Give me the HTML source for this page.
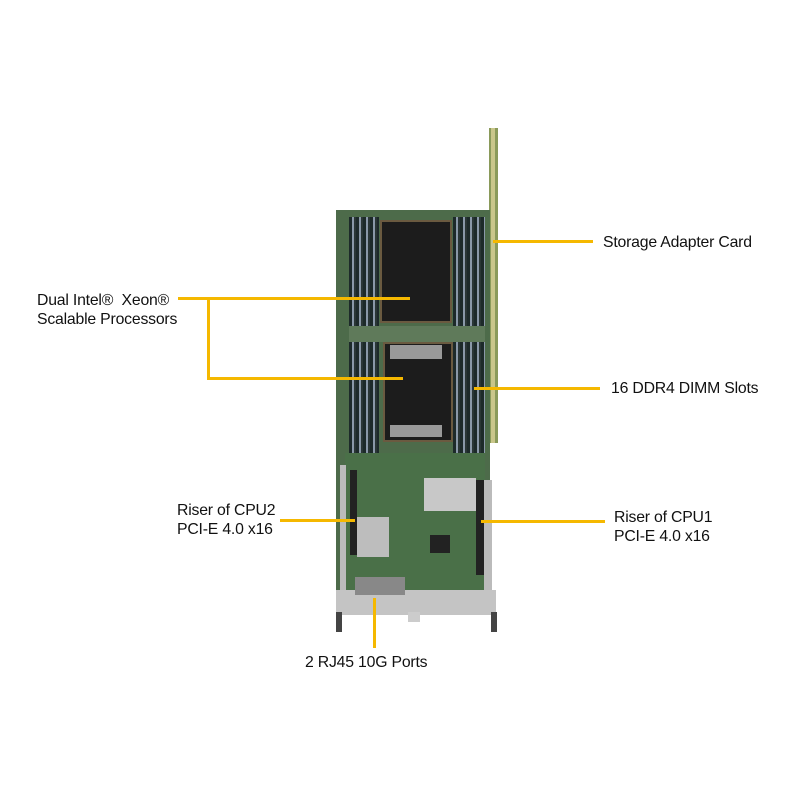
<!DOCTYPE html>
<html><head><style>
body{margin:0;width:800px;height:800px;background:#fff;position:relative;overflow:hidden;font-family:"Liberation Sans",Arial,sans-serif;}
.a{position:absolute}
.t{position:absolute;font-size:15.8px;color:#111;line-height:19px;letter-spacing:-0.2px}
.y{position:absolute;background:#f5b800}
</style></head><body>
<div class="a" style="left:489px;top:128px;width:9px;height:315px;background:#8a9a5a"></div>
<div class="a" style="left:491px;top:128px;width:4px;height:315px;background:#c9c68a"></div>
<div class="a" style="left:336px;top:210px;width:154px;height:385px;background:#4d6b4a"></div>
<div class="a" style="left:349px;top:217px;width:30px;height:236px;background:repeating-linear-gradient(90deg,#1d2a2a 0 3px,#8a98a8 3px 5px,#2a3636 5px 7px)"></div>
<div class="a" style="left:453px;top:217px;width:32px;height:236px;background:repeating-linear-gradient(90deg,#1d2a2a 0 3px,#8a98a8 3px 5px,#2a3636 5px 7px)"></div>
<div class="a" style="left:349px;top:326px;width:136px;height:16px;background:#5f7a5a"></div>
<div class="a" style="left:380px;top:220px;width:72px;height:103px;background:#1c1c1c;border:2px solid #6a5a40;box-sizing:border-box"></div>
<div class="a" style="left:383px;top:342px;width:70px;height:100px;background:#1c1c1c;border:2px solid #6a5a40;box-sizing:border-box"></div>
<div class="a" style="left:390px;top:345px;width:52px;height:14px;background:#999"></div>
<div class="a" style="left:390px;top:425px;width:52px;height:12px;background:#999"></div>
<div class="a" style="left:345px;top:453px;width:140px;height:140px;background:#4a7048"></div>
<div class="a" style="left:424px;top:478px;width:52px;height:33px;background:#c8c8c8"></div>
<div class="a" style="left:357px;top:517px;width:32px;height:40px;background:#bdbdbd"></div>
<div class="a" style="left:430px;top:535px;width:20px;height:18px;background:#222"></div>
<div class="a" style="left:350px;top:470px;width:7px;height:85px;background:#222"></div>
<div class="a" style="left:476px;top:480px;width:8px;height:95px;background:#222"></div>
<div class="a" style="left:340px;top:465px;width:6px;height:130px;background:#bbb"></div>
<div class="a" style="left:484px;top:480px;width:8px;height:115px;background:#bbb"></div>
<div class="a" style="left:336px;top:590px;width:160px;height:25px;background:#c4c4c4"></div>
<div class="a" style="left:355px;top:577px;width:50px;height:18px;background:#888"></div>
<div class="a" style="left:336px;top:612px;width:6px;height:20px;background:#444"></div>
<div class="a" style="left:491px;top:612px;width:6px;height:20px;background:#444"></div>
<div class="a" style="left:408px;top:612px;width:12px;height:10px;background:#ccc"></div>
<div class="y" style="left:493px;top:240px;width:100px;height:3px"></div>
<div class="y" style="left:178px;top:297px;width:232px;height:3px"></div>
<div class="y" style="left:207px;top:297px;width:3px;height:82px"></div>
<div class="y" style="left:207px;top:377px;width:196px;height:3px"></div>
<div class="y" style="left:474px;top:387px;width:126px;height:3px"></div>
<div class="y" style="left:280px;top:519px;width:75px;height:3px"></div>
<div class="y" style="left:481px;top:520px;width:124px;height:3px"></div>
<div class="y" style="left:373px;top:598px;width:3px;height:50px"></div>
<div class="t" style="left:603px;top:233px">Storage Adapter Card</div>
<div class="t" style="left:37px;top:291px">Dual Intel®&nbsp; Xeon®<br>Scalable Processors</div>
<div class="t" style="left:611px;top:379px">16 DDR4 DIMM Slots</div>
<div class="t" style="left:177px;top:501px">Riser of CPU2<br>PCI-E 4.0 x16</div>
<div class="t" style="left:614px;top:508px">Riser of CPU1<br>PCI-E 4.0 x16</div>
<div class="t" style="left:305px;top:653px">2 RJ45 10G Ports</div>
</body></html>
